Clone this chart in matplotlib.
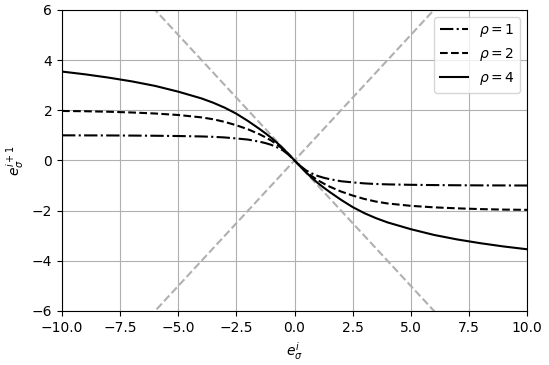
import matplotlib
matplotlib.use("Agg")
import matplotlib.pyplot as plt

# e_sigma^i values (x) where the curves were read
x_vals = [-10, -9, -8, -7, -6, -5, -4, -3.5, -3, -2.5, -2, -1.5, -1.25, -1, -0.75, -0.5, -0.25,
          0, 0.25, 0.5, 0.75, 1, 1.25, 1.5, 2, 2.5, 3, 3.5, 4, 5, 6, 7, 8, 9, 10]

# e_sigma^{i+1} for each rho
rho1 = [1.0, 0.997, 0.995, 0.99, 0.983, 0.972, 0.955, 0.94, 0.915, 0.875, 0.83, 0.745, 0.69, 0.62, 0.52, 0.40, 0.22,
        0, -0.22, -0.40, -0.52, -0.62, -0.69, -0.745, -0.83, -0.875, -0.915, -0.94, -0.955, -0.972, -0.983, -0.99, -0.995, -0.997, -1.0]
rho2 = [1.97, 1.96, 1.94, 1.91, 1.87, 1.81, 1.715, 1.64, 1.535, 1.40, 1.24, 1.04, 0.92, 0.79, 0.63, 0.45, 0.24,
        0, -0.24, -0.45, -0.63, -0.79, -0.92, -1.04, -1.24, -1.40, -1.535, -1.64, -1.715, -1.81, -1.87, -1.91, -1.94, -1.96, -1.97]
rho4 = [3.54, 3.43, 3.30, 3.15, 2.97, 2.74, 2.47, 2.30, 2.10, 1.86, 1.57, 1.25, 1.08, 0.90, 0.70, 0.48, 0.245,
        0, -0.245, -0.48, -0.70, -0.90, -1.08, -1.25, -1.57, -1.86, -2.10, -2.30, -2.47, -2.74, -2.97, -3.15, -3.30, -3.43, -3.54]

# reference diagonals
diag_x = [-10, 10]
diag_up = [-10, 10]
diag_down = [10, -10]

fig = plt.figure(figsize=(5.49, 3.65), dpi=100)
ax = fig.add_axes([0.113, 0.148, 0.847, 0.825])

ax.plot(diag_x, diag_up, '--', color='#b0b0b0', linewidth=1.5)
ax.plot(diag_x, diag_down, '--', color='#b0b0b0', linewidth=1.5)
ax.plot(x_vals, rho1, 'k-.', linewidth=1.5, label=r'$\rho = 1$')
ax.plot(x_vals, rho2, 'k--', linewidth=1.5, label=r'$\rho = 2$')
ax.plot(x_vals, rho4, 'k-', linewidth=1.5, label=r'$\rho = 4$')

ax.set_xlim(-10, 10)
ax.set_ylim(-6, 6)
ax.set_xlabel(r'$e_\sigma^i$')
ax.set_ylabel(r'$e_\sigma^{i+1}$')
ax.grid(True)
ax.legend(loc='upper right')

fig.savefig('out.png', dpi=100)
